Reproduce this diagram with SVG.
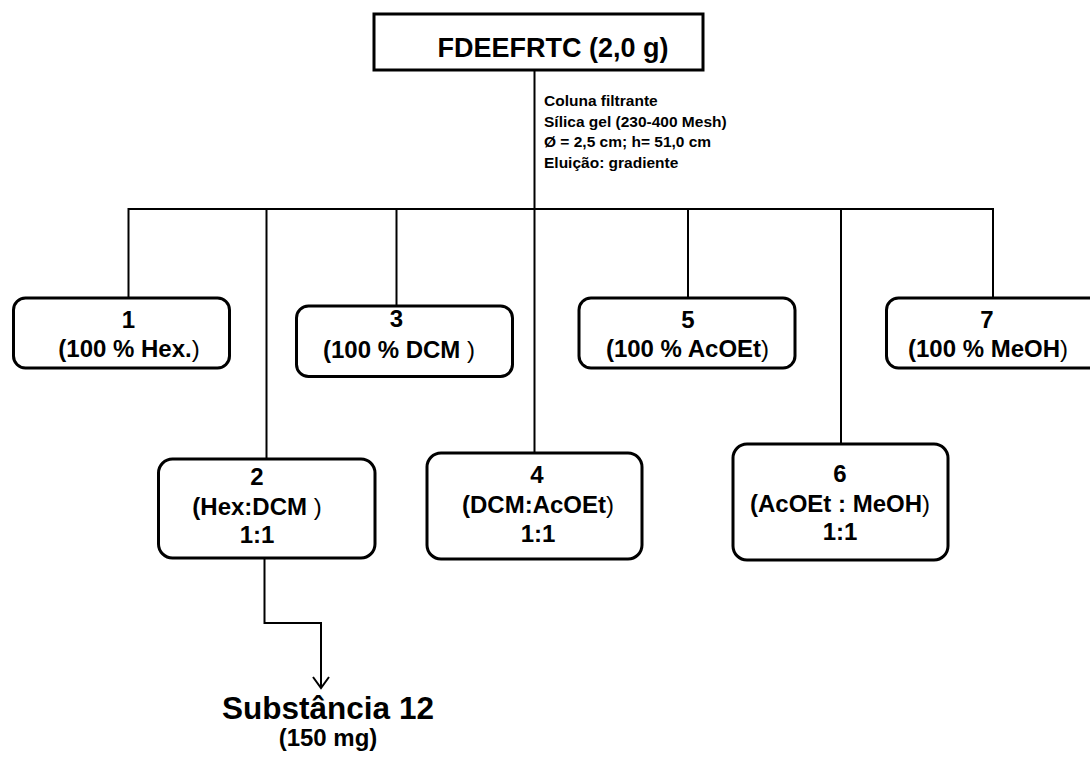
<svg xmlns="http://www.w3.org/2000/svg" width="1090" height="760" viewBox="0 0 1090 760">
<defs>
<style>
.box{fill:#fff;stroke:#000;stroke-width:3}
.ln{fill:none;stroke:#000;stroke-width:2}
text{font-family:"Liberation Sans",Arial,sans-serif;font-weight:bold;fill:#000}
.t{font-size:24px;text-anchor:middle}
.n{font-weight:normal}
.note{font-size:15.5px}
</style>
</defs>
<rect width="1090" height="760" fill="#fff"/>
<g id="connectors">
<path class="ln" d="M534.5 70 V453"/>
<path class="ln" d="M128.5 298 V209 H993 V298"/>
<path class="ln" d="M266.5 209 V459"/>
<path class="ln" d="M396.5 209 V306"/>
<path class="ln" d="M688 209 V298"/>
<path class="ln" d="M841 209 V444"/>
<path class="ln" d="M264.5 558 V623 H321 V688"/>
<path class="ln" d="M313 677 L321 688 L329 677"/>
</g>
<g id="n0">
<rect class="box" x="374" y="14" width="329" height="56"/>
<text x="553" y="57" style="font-size:27px;text-anchor:middle">FDEEFRTC (2,0 g)</text>
</g>
<g id="note">
<text class="note" x="544" y="106">Coluna filtrante</text>
<text class="note" x="544" y="126.5">Sílica gel (230-400 Mesh)</text>
<text class="note" x="544" y="147">Ø = 2,5 cm; h= 51,0 cm</text>
<text class="note" x="544" y="167.5">Eluição: gradiente</text>
</g>
<g id="n1">
<rect class="box" x="13.5" y="298" width="216" height="70" rx="12"/>
<text class="t" x="128.5" y="328">1</text>
<text class="t" x="129" y="357">(100 % Hex.<tspan class="n">)</tspan></text>
</g>
<g id="n3">
<rect class="box" x="296.5" y="306" width="216" height="70.5" rx="12"/>
<text class="t" x="396.5" y="327">3</text>
<text class="t" x="399" y="357.5">(100 % DCM <tspan class="n">)</tspan></text>
</g>
<g id="n5">
<rect class="box" x="579" y="298" width="216" height="70" rx="12"/>
<text class="t" x="688" y="328">5</text>
<text class="t" x="687.5" y="357">(100 % AcOEt<tspan class="n">)</tspan></text>
</g>
<g id="n7">
<rect class="box" x="886.5" y="298" width="216" height="70" rx="12"/>
<text class="t" x="987" y="328">7</text>
<text class="t" x="988" y="357">(100 % MeOH<tspan class="n">)</tspan></text>
</g>
<g id="n2">
<rect class="box" x="158.5" y="459" width="216.5" height="99" rx="14"/>
<text class="t" x="257" y="485">2</text>
<text class="t" x="257" y="515">(Hex:DCM <tspan class="n">)</tspan></text>
<text class="t" x="257" y="543">1:1</text>
</g>
<g id="n4">
<rect class="box" x="427" y="453" width="215" height="106" rx="14"/>
<text class="t" x="537" y="483">4</text>
<text class="t" x="538" y="513">(DCM:AcOEt<tspan class="n">)</tspan></text>
<text class="t" x="538" y="541.5">1:1</text>
</g>
<g id="n6">
<rect class="box" x="733" y="444" width="215" height="116" rx="14"/>
<text class="t" x="840" y="481.5">6</text>
<text class="t" x="840" y="511.5">(AcOEt : MeOH<tspan class="n">)</tspan></text>
<text class="t" x="840" y="540">1:1</text>
</g>
<g id="result">
<text x="328" y="719" style="font-size:31.5px;text-anchor:middle">Substância 12</text>
<text x="328" y="746" style="font-size:24px;text-anchor:middle">(150 mg)</text>
</g>
</svg>
